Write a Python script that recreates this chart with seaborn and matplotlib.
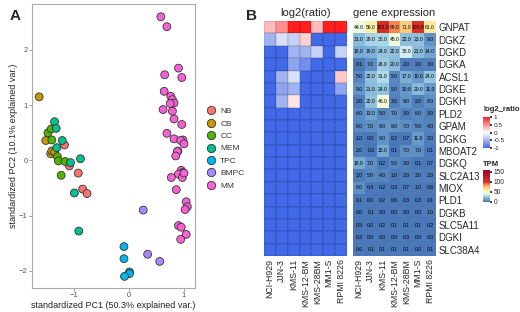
import numpy as np
import pandas as pd
import matplotlib
matplotlib.use('Agg')
import matplotlib.pyplot as plt
import seaborn as sns
from matplotlib.colors import LinearSegmentedColormap

# ---------------- panel A: PCA scores ----------------
nb_pc1 = [-1.17, -1.08, -0.92, -0.84, -0.76]
nb_pc2 = [0.28, -0.10, -0.23, -0.52, -0.60]
cb_pc1 = [-1.63, -1.51, -1.42, -1.40, -1.35]
cb_pc2 = [1.15, 0.36, 0.12, 0.17, 0.15]
cc_pc1 = [-1.47, -1.41, -1.40, -1.30, -1.28, -1.23, -1.16]
cc_pc2 = [0.50, 0.57, 0.37, 0.07, -0.01, -0.27, -0.02]
mem_pc1 = [-1.35, -1.32, -1.31, -1.21, -1.06, -0.88, -0.99, -0.91]
mem_pc2 = [0.70, 0.58, 0.23, 0.36, -0.04, 0.03, -0.59, -1.28]
tpc_pc1 = [-0.09, -0.09, 0.01, 0.01, -0.08]
tpc_pc2 = [-1.56, -1.78, -2.02, -2.05, -2.10]
bmpc_pc1 = [0.26, 0.34, 0.56]
bmpc_pc2 = [-0.90, -1.70, -1.83]
mm_pc1 = [0.58, 0.69, 0.90, 0.65, 0.96, 0.64, 0.76, 0.79, 0.82, 0.75, 0.62, 0.79,
          0.82, 0.96, 0.69, 0.82, 0.98, 0.94, 1.00, 0.89, 0.88, 0.85, 0.95, 0.98,
          0.90, 0.77, 0.97, 0.86, 1.04, 1.06, 1.02, 0.90, 0.95, 1.04, 0.94, 1.00]
mm_pc2 = [2.60, 2.42, 1.67, 1.55, 1.50, 1.25, 1.16, 1.10, 1.04, 1.03, 0.92, 0.89,
          0.75, 0.65, 0.49, 0.39, 0.37, 0.36, 0.30, 0.17, 0.16, 0.08, -0.18, -0.22,
          -0.25, -0.31, -0.31, -0.53, -0.75, -0.84, -0.89, -1.18, -1.21, -1.34, -1.43, -0.23]

groups = ['NB', 'CB', 'CC', 'MEM', 'TPC', 'BMPC', 'MM']
pc1 = [nb_pc1, cb_pc1, cc_pc1, mem_pc1, tpc_pc1, bmpc_pc1, mm_pc1]
pc2 = [nb_pc2, cb_pc2, cc_pc2, mem_pc2, tpc_pc2, bmpc_pc2, mm_pc2]
group_colors = ['#F8766D', '#C49A00', '#53B400', '#00C094', '#00B6EB', '#A58AFF', '#FB61D7']

pca = pd.concat([pd.DataFrame({'PC1': a, 'PC2': b, 'group': g})
                 for g, a, b in zip(groups, pc1, pc2)], ignore_index=True)

# ---------------- panel B: heatmaps ----------------
cell_lines = ['NCI-H929', 'JJN-3', 'KMS-11', 'KMS-12-BM', 'KMS-28BM', 'MM1-S', 'RPMI 8226']
genes = ['GNPAT', 'DGKZ', 'DGKD', 'DGKA', 'ACSL1', 'DGKE', 'DGKH', 'PLD2', 'GPAM', 'DGKG',
         'MBOAT2', 'DGKQ', 'SLC2A13', 'MIOX', 'PLD1', 'DGKB', 'SLC5A11', 'DGKI', 'SLC38A4']

tpm = [
    [44, 58, 102, 86, 71, 100, 61],
    [21, 29, 30, 45, 22, 23, 9],
    [16, 18, 24, 22, 38, 21, 14],
    [0.1, 7, 26, 20, 2, 2, 3],
    [5, 22, 31, 5, 17, 10, 24],
    [9, 21, 24, 5, 10, 20, 11],
    [2, 22, 46, 3, 9, 2, 8],
    [6, 13, 5, 7, 3, 6, 3],
    [6, 7, 9, 9, 7, 5, 4],
    [1, 0, 9, 0.2, 0.7, 11, 2],
    [2, 0.2, 15, 0.1, 7, 7, 0.1],
    [16, 7, 0.2, 5, 3, 0.1, 0.7],
    [2, 5, 4, 1, 2, 2, 2],
    [8, 0.4, 0.2, 0.3, 0.7, 1, 0.6],
    [0.1, 0, 0.2, 0.6, 0.3, 0.3, 0.1],
    [0, 0.1, 0, 0, 0, 0, 1],
    [0.5, 0, 0.2, 0.1, 0.1, 0.1, 0.2],
    [0.3, 0, 0, 0, 0.3, 0, 0],
    [0, 0.1, 0.1, 0.1, 0.1, 0, 0.1],
]

log2_ratio = [
    [0.3, 0.5, 1, 1, 0.3, 1, 1],
    [-0.5, -0.2, -0.3, 0.2, -1, -1, -1],
    [-1, -1, -0.5, -0.5, -0.3, -1, -0.3],
    [-1, -1, -0.6, -0.75, -1, -1, -1],
    [-1, -0.5, -0.2, -1, -1, -1, 0.25],
    [-1, -0.6, -0.5, -1, -1, -1, -0.6],
    [-1, -0.5, 0.12, -1, -1, -1, -1],
] + [[-1] * 7 for _ in range(12)]

tpm_df = pd.DataFrame(tpm, index=genes, columns=cell_lines)
ratio_df = pd.DataFrame(log2_ratio, index=genes, columns=cell_lines)

sns.set_theme(style='white')
plt.rcParams['font.family'] = ['Liberation Sans', 'DejaVu Sans']

fig = plt.figure(figsize=(5.2, 3.12), dpi=100)

#scatter
ax = fig.add_axes([0.0615, 0.077, 0.3135, 0.910])
sns.scatterplot(data=pca, x='PC1', y='PC2', hue='group', hue_order=groups,
                palette=dict(zip(groups, group_colors)), s=32, edgecolor='#333333',
                linewidth=0.6, ax=ax, legend=False)
ax.set_xlim(-1.76, 1.2)
ax.set_ylim(-2.31, 2.83)
ax.set_xticks([-1, 0, 1])
ax.set_yticks([-2, -1, 0, 1, 2])
ax.set_xlabel('standardized PC1 (50.3% explained var.)', fontsize=6.5, color='#222222', labelpad=1)
ax.set_ylabel('standardized PC2 (10.1% explained var.)', fontsize=6.5, color='#222222', labelpad=1)
ax.tick_params(axis='both', labelsize=5.5, labelcolor='#555555', length=2, width=0.5,
               color='#777777', pad=1, bottom=True, left=True)
for sp_ in ax.spines.values():
    sp_.set_color('#aaaaaa')
    sp_.set_linewidth(0.8)

handles = [plt.Line2D([], [], marker='o', linestyle='', markersize=6, markerfacecolor=c,
                      markeredgecolor='#333333', markeredgewidth=0.6) for c in group_colors]
fig.legend(handles, groups, loc='center left', bbox_to_anchor=(0.398, 0.524), frameon=False,
           fontsize=6, labelspacing=0.55, handlelength=1.0, handletextpad=0.6,
           borderpad=0, borderaxespad=0, labelcolor='#333333')

# log2 ratio heatmap
ratio_cmap = LinearSegmentedColormap.from_list('ratio', ['#4169E8', '#ffffff', '#ff1f1f'])
ax_r = fig.add_axes([0.5077, 0.1795, 0.1596, 0.753])
cax_r = fig.add_axes([0.929, 0.5256, 0.0135, 0.0994])
sns.heatmap(ratio_df, cmap=ratio_cmap, vmin=-1, vmax=1, ax=ax_r, cbar_ax=cax_r,
            linewidths=0.3, linecolor=(0, 0, 0, 0.08), xticklabels=True, yticklabels=False,
            cbar_kws={'ticks': [-1, -0.5, 0, 0.5, 1]})
ax_r.set_title('log2(ratio)', fontsize=8, pad=4)
ax_r.set_xlabel('')
ax_r.set_ylabel('')
ax_r.tick_params(axis='x', labelsize=6.3, rotation=90, length=0, pad=2)
cax_r.set_title('log2_ratio', fontsize=5.5, fontweight='bold', loc='left', pad=4)
cax_r.tick_params(labelsize=4.6, length=1.5, pad=1)
cax_r.set_yticklabels(['-1', '-0.5', '0', '0.5', '1'])

# gene expression heatmap
tpm_cmap = LinearSegmentedColormap.from_list(
    'tpm', [(0.0, '#4a78b8'), (15 / 160, '#74a8d2'), (30 / 160, '#abd9e9'),
            (40 / 160, '#e0f3f8'), (50 / 160, '#ffffbf'), (65 / 160, '#fee090'),
            (80 / 160, '#fdae61'), (90 / 160, '#f46d43'), (100 / 160, '#d73027'),
            (1.0, '#a50026')])
ax_t = fig.add_axes([0.6788, 0.1795, 0.1596, 0.753])
cax_t = fig.add_axes([0.929, 0.3526, 0.0135, 0.1026])
sns.heatmap(tpm_df, cmap=tpm_cmap, vmin=0, vmax=160, ax=ax_t, cbar_ax=cax_t,
            annot=True, fmt='.1f', annot_kws={'fontsize': 3.6, 'color': 'black'},
            xticklabels=True, yticklabels=True,
            cbar_kws={'ticks': [0, 50, 100, 150]})
ax_t.set_title('gene expression', fontsize=8, pad=4)
ax_t.set_xlabel('')
ax_t.set_ylabel('')
ax_t.yaxis.tick_right()
ax_t.tick_params(axis='y', labelsize=7, rotation=0, length=0, pad=2)
ax_t.tick_params(axis='x', labelsize=6.3, rotation=90, length=0, pad=2)
cax_t.set_title('TPM', fontsize=5.5, fontweight='bold', loc='left', pad=3)
cax_t.tick_params(labelsize=4.8, length=1.5, pad=1)

fig.text(0.018, 0.935, 'A', fontsize=11, fontweight='bold')
fig.text(0.474, 0.935, 'B', fontsize=11, fontweight='bold')

fig.savefig('out.png', dpi=100)
